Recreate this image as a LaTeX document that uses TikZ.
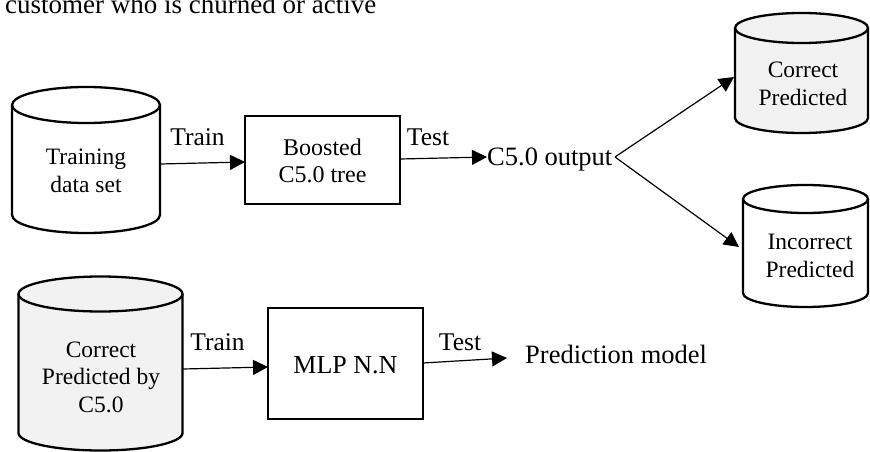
\documentclass[tikz,border=0pt]{standalone}
\usepackage{fontspec}
\setmainfont{Liberation Serif}
\usetikzlibrary{arrows.meta}
\definecolor{cylgray}{HTML}{F2F2F2}
\newcommand{\dbcyl}[6]{%
  % #1 cx, #2 top cy, #3 bottom cy, #4 rx, #5 ry, #6 fill
  \filldraw[cylline,fill=#6] ({#1-#4},#2) -- ({#1-#4},#3)
    arc[start angle=180,end angle=0,x radius=#4,y radius=#5]
    -- ({#1+#4},#2) arc[start angle=0,end angle=-180,x radius=#4,y radius=#5] -- cycle;
  \draw[cylline] ({#1-#4},#2) arc[start angle=180,end angle=0,x radius=#4,y radius=#5];
}
\tikzset{
  cylline/.style={line width=2.3pt},
  procbox/.style={draw,line width=2.5pt,inner sep=0pt},
  arr/.style={line width=1.2pt,-{Triangle[length=15pt,width=15pt]}},
  cyltext/.style={inner sep=0pt,align=center,font=\fontsize{23.5}{27.5}\selectfont},
  lbl/.style={inner sep=0pt,anchor=base,font=\fontsize{25.5}{28}\selectfont},
  bigtxt/.style={inner sep=0pt,anchor=base west,font=\fontsize{26.5}{30}\selectfont},
}
\begin{document}
\begin{tikzpicture}[x=1pt,y=-1pt]
\useasboundingbox (0,0) rectangle (870,452);
% top caption
\node[inner sep=0pt,anchor=base west,font=\fontsize{27}{30}\selectfont] (cap) at (5,14) {customer who is churned or active};
% cylinders
\dbcyl{86}{105}{215}{74}{18}{white}
\dbcyl{801.5}{28}{118}{66.5}{15}{cylgray}
\dbcyl{805.5}{199}{293}{62.5}{14}{white}
\dbcyl{100.5}{294}{433}{82}{17.5}{cylgray}
\node[cyltext,anchor=base] (trn) at (86,192) {Training\\data set};
\node[cyltext,anchor=base] (cpr) at (803,105) {Correct\\Predicted};
\node[cyltext,anchor=base] (ipr) at (810,277) {Incorrect\\Predicted};
\node[cyltext,anchor=base] (cpb) at (101,412) {Correct\\Predicted by\\C5.0};
% boxes
\node[procbox,minimum width=155pt,minimum height=88pt] (bst) at (322.5,160) {};
\node[cyltext,anchor=base,font=\fontsize{24}{27}\selectfont] (bsttxt) at (322.5,182) {Boosted\\C5.0 tree};
\node[procbox,minimum width=155pt,minimum height=111pt] (mlp) at (345.5,363.5) {};
\node[inner sep=0pt,anchor=base,font=\fontsize{26}{30}\selectfont] (mlptxt) at (345.5,373) {MLP N.N};
% outputs
\node[bigtxt] (out) at (487,165) {C5.0 output};
\node[bigtxt] (pm) at (525,363) {Prediction model};
% labels
\node[lbl] (tr1) at (197.5,145) {Train};
\node[lbl] (te1) at (428,145) {Test};
\node[lbl] (tr2) at (217.5,350) {Train};
\node[lbl] (te2) at (460,350) {Test};
% connector ends
\coordinate (trnR) at (160,164);
\coordinate (bstIn) at (245,162);
\coordinate (bstOut) at (400,159);
\coordinate (outIn) at (487,157);
\coordinate (outOut) at (615,157);
\coordinate (cprIn) at (734,77);
\coordinate (iprIn) at (739,247);
\coordinate (cpbR) at (183,369);
\coordinate (mlpIn) at (268,367);
\coordinate (mlpOut) at (423,363);
\coordinate (pmIn) at (507,358);
% connectors
\draw[arr] (trnR) -- (bstIn);
\draw[arr] (bstOut) -- (outIn);
\draw[arr] (outOut) -- (cprIn);
\draw[arr] (outOut) -- (iprIn);
\draw[arr] (cpbR) -- (mlpIn);
\draw[arr] (mlpOut) -- (pmIn);
\end{tikzpicture}
\end{document}
